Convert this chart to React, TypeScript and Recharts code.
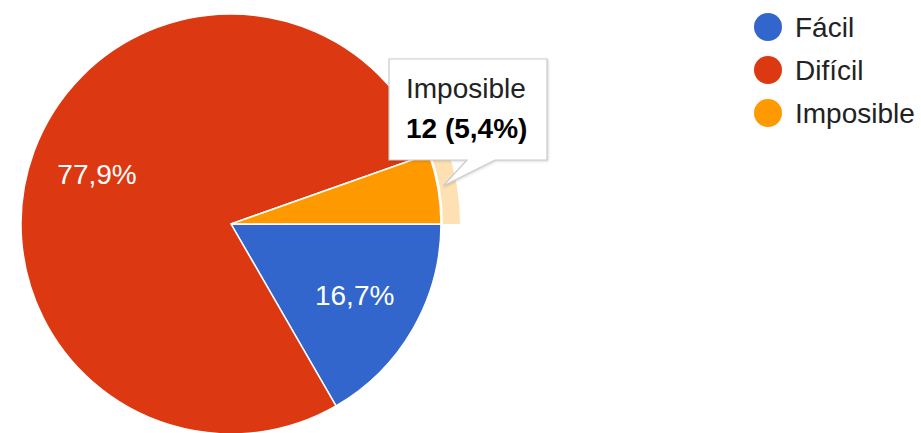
import { Cell, Pie, PieChart } from "recharts";

const categories = ["Fácil", "Difícil", "Imposible"];
const counts = [37, 173, 12];
const colors = ["#3366cc", "#dc3912", "#ff9900"];
const highlighted = 2;

const total = counts.reduce((a, b) => a + b, 0);
const data = categories.map((name, i) => ({ name, value: counts[i] }));

const FONT = "Arial, 'Liberation Sans', sans-serif";
const RAD = Math.PI / 180;

function pct(v: number): string {
  return `${((v / total) * 100).toFixed(1).replace(".", ",")}%`;
}

function SliceLabel(props: any) {
  const { cx, cy, midAngle, outerRadius, value, index } = props;
  if (index === highlighted) return null;
  const r = outerRadius * 0.68;
  const x = cx + r * Math.cos(-midAngle * RAD);
  const y = cy + r * Math.sin(-midAngle * RAD);
  return (
    <text
      x={x}
      y={y}
      fill="#ffffff"
      fontSize={28}
      fontFamily={FONT}
      textAnchor="middle"
      dominantBaseline="central"
    >
      {pct(value)}
    </text>
  );
}

function Legendish() {
  return (
    <svg width={921} height={433} style={{ position: "absolute", left: 0, top: 0, pointerEvents: "none" }}>
      {categories.map((c, i) => (
        <g key={c}>
          <circle cx={768} cy={27 + i * 43} r={14} fill={colors[i]} />
          <text x={795} y={37 + i * 43} fontSize={28} fontFamily={FONT} fill="#222222">
            {c}
          </text>
        </g>
      ))}
      {/* tooltip for the hovered slice */}
      <g>
        <path
          d="M389,59 L547,59 L547,160 L495,160 L443,186 L467,160 L389,160 Z"
          fill="#ffffff"
          stroke="#cccccc"
          strokeWidth={1.2}
          style={{ filter: "drop-shadow(1px 1px 1px rgba(0,0,0,0.15))" }}
        />
        <text x={406} y={98} fontSize={28} fontFamily={FONT} fill="#222222">
          {categories[highlighted]}
        </text>
        <text x={406} y={138} fontSize={28} fontWeight="bold" fontFamily={FONT} fill="#000000">
          {`${counts[highlighted]} (${pct(counts[highlighted])})`}
        </text>
      </g>
    </svg>
  );
}

export default function App() {
  return (
    <div style={{ position: "absolute", left: 0, top: 0, width: 921, height: 433, background: "#fff" }}>
      <PieChart width={921} height={433} margin={{ top: 0, right: 0, bottom: 0, left: 0 }}>
        <Pie
          data={data}
          dataKey="value"
          nameKey="name"
          cx={231}
          cy={224}
          outerRadius={229}
          innerRadius={212}
          startAngle={0}
          endAngle={-360}
          stroke="none"
          isAnimationActive={false}
        >
          {data.map((d, i) => (
            <Cell key={d.name} fill={i === highlighted ? "#ffe0b3" : "transparent"} />
          ))}
        </Pie>
        <Pie
          data={data}
          dataKey="value"
          nameKey="name"
          cx={231}
          cy={224}
          outerRadius={210}
          startAngle={0}
          endAngle={-360}
          stroke="#ffffff"
          strokeWidth={1.5}
          label={SliceLabel}
          labelLine={false}
          isAnimationActive={false}
        >
          {data.map((d, i) => (
            <Cell key={d.name} fill={colors[i]} />
          ))}
        </Pie>
      </PieChart>
      <Legendish />
    </div>
  );
}
